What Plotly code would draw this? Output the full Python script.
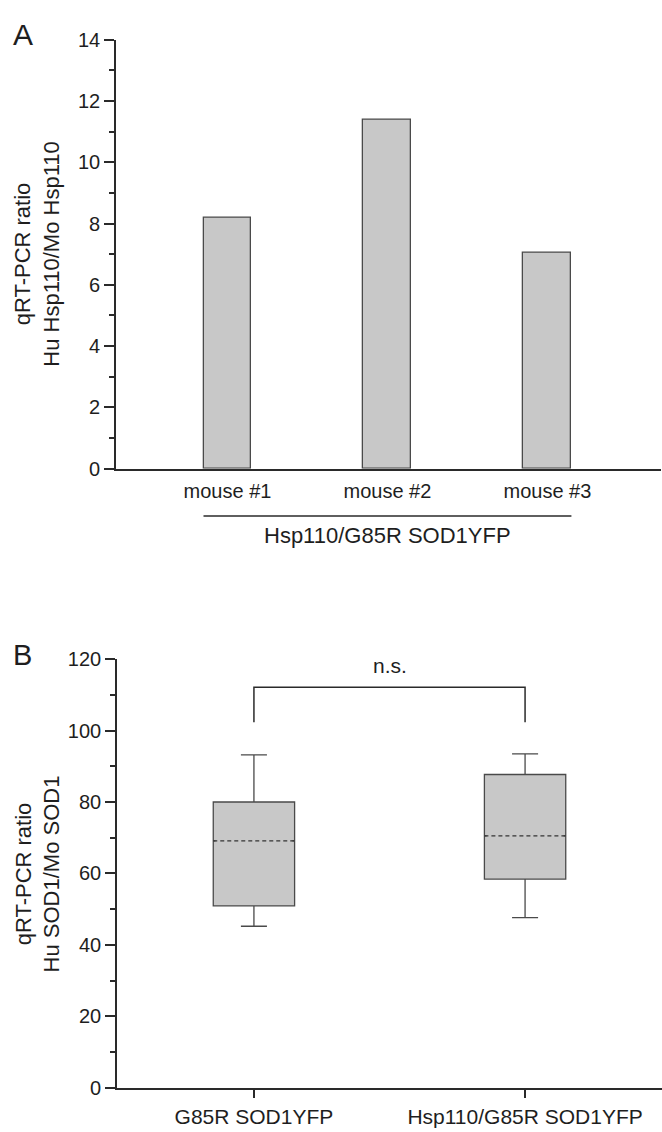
import plotly.graph_objects as go

# ---------------- Panel A data ----------------
mice = ["mouse #1", "mouse #2", "mouse #3"]
ratio_hsp110 = [8.18, 11.38, 7.06]
group_label_a = "Hsp110/G85R SOD1YFP"
yticks_a = [0, 2, 4, 6, 8, 10, 12, 14]

# ---------------- Panel B data ----------------
genotypes = ["G85R SOD1YFP", "Hsp110/G85R SOD1YFP"]
q1_vals = [50.9, 58.4]
median_vals = [69.1, 70.5]
q3_vals = [80.0, 87.7]
lower_vals = [45.2, 47.6]
upper_vals = [93.2, 93.5]
sig_label = "n.s."
bracket_top = 112.1
bracket_leg = 102.3
yticks_b = [0, 20, 40, 60, 80, 100, 120]

FONT = "Liberation Sans, Arial, sans-serif"
TXT = "#1e1e1e"
AX = "#2a2a2a"
FILL = "#c8c8c8"
EDGE = "#4a4a4a"

W, H = 662, 1132
BAR_W = 0.3

pos_a = list(range(1, len(mice) + 1))
pos_b = list(range(1, len(genotypes) + 1))

fig = go.Figure()

# Panel A bars
fig.add_trace(go.Bar(
    x=pos_a, y=ratio_hsp110, width=BAR_W,
    marker=dict(color=FILL, line=dict(color=EDGE, width=1.3)),
    xaxis="x", yaxis="y", showlegend=False, hoverinfo="skip"))

# Panel B boxes
fig.add_trace(go.Box(
    x=pos_b, q1=q1_vals, median=median_vals, q3=q3_vals,
    lowerfence=lower_vals, upperfence=upper_vals,
    width=BAR_W, whiskerwidth=0.32, boxpoints=False,
    fillcolor=FILL, line=dict(color=EDGE, width=1.3),
    xaxis="x2", yaxis="y2", showlegend=False, hoverinfo="skip"))

# cover the solid median, then draw a dashed median
for p, m in zip(pos_b, median_vals):
    fig.add_trace(go.Scatter(
        x=[p - BAR_W / 2 + 0.008, p + BAR_W / 2 - 0.008], y=[m, m], mode="lines",
        line=dict(color=FILL, width=3), xaxis="x2", yaxis="y2",
        showlegend=False, hoverinfo="skip"))
    fig.add_trace(go.Scatter(
        x=[p - BAR_W / 2, p + BAR_W / 2], y=[m, m], mode="lines",
        line=dict(color="#333333", width=1.2, dash="4px,3px"), xaxis="x2", yaxis="y2",
        showlegend=False, hoverinfo="skip"))

# significance bracket
fig.add_trace(go.Scatter(
    x=[pos_b[0], pos_b[0], pos_b[-1], pos_b[-1]],
    y=[bracket_leg, bracket_top, bracket_top, bracket_leg],
    mode="lines", line=dict(color=AX, width=1.5),
    xaxis="x2", yaxis="y2", showlegend=False, hoverinfo="skip"))


# pixel helpers (window pixel coordinates -> paper coordinates)
def px_y(py):
    return 1 - py / H


def px_x(px):
    return min(1.0, px / W)


axis_common = dict(showgrid=False, zeroline=False, showline=True,
                   linecolor=AX, linewidth=1.6)

fig.update_layout(
    width=W, height=H,
    margin=dict(l=0, r=0, t=0, b=0),
    paper_bgcolor="white", plot_bgcolor="white",
    font=dict(family=FONT, color=TXT),
    bargap=0,
    xaxis=dict(**axis_common, domain=[px_x(116), px_x(661)], range=[0.303, 3.71],
               tickvals=pos_a, ticktext=mice, ticks="", ticklabelstandoff=4,
               tickfont=dict(size=20, family=FONT, color=TXT), anchor="y"),
    yaxis=dict(**axis_common, domain=[px_y(466.7), px_y(29.3)], range=[0, 14],
               tickvals=yticks_a, ticks="outside", ticklen=10, tickwidth=1.5,
               tickcolor=AX, tickfont=dict(size=20, family=FONT, color=TXT),
               minor=dict(ticks="outside", ticklen=5, tickwidth=1.5, dtick=1,
                          tickcolor=AX),
               anchor="x"),
    xaxis2=dict(**axis_common, domain=[px_x(117), 1.0], range=[0.495, 2.505],
                tickvals=pos_b, ticktext=genotypes, ticks="outside", ticklen=9,
                tickwidth=1.5, tickcolor=AX,
                tickfont=dict(size=21, family=FONT, color=TXT), anchor="y2"),
    yaxis2=dict(**axis_common, domain=[px_y(1098), px_y(661)], range=[0, 120],
                tickvals=yticks_b, ticks="outside", ticklen=10, tickwidth=1.5,
                tickcolor=AX, tickfont=dict(size=20, family=FONT, color=TXT),
                minor=dict(ticks="outside", ticklen=5, tickwidth=1.5, dtick=10,
                           tickcolor=AX),
                anchor="x2"),
)

# group underline and label for panel A
fig.add_shape(type="line", xref="x", yref="paper",
              x0=pos_a[0] - BAR_W / 2, x1=pos_a[-1] + BAR_W / 2,
              y0=px_y(515), y1=px_y(515), line=dict(color=AX, width=1.5))

annotations = [
    dict(text=group_label_a, xref="x", yref="paper", x=pos_a[len(pos_a) // 2],
         y=px_y(535), xanchor="center", yanchor="middle", showarrow=False,
         font=dict(size=22, family=FONT, color=TXT)),
    dict(text="qRT-PCR ratio<br>Hu Hsp110/Mo Hsp110", xref="paper", yref="paper",
         x=px_x(37.5), y=px_y(248), textangle=-90, xanchor="center",
         yanchor="middle", showarrow=False,
         font=dict(size=22, family=FONT, color=TXT)),
    dict(text="qRT-PCR ratio<br>Hu SOD1/Mo SOD1", xref="paper", yref="paper",
         x=px_x(37.5), y=px_y(880), textangle=-90, xanchor="center",
         yanchor="middle", showarrow=False,
         font=dict(size=22, family=FONT, color=TXT)),
    dict(text=sig_label, xref="x2", yref="y2",
         x=(pos_b[0] + pos_b[-1]) / 2, y=bracket_top, yanchor="bottom",
         yshift=8, showarrow=False, font=dict(size=21, family=FONT, color=TXT)),
    dict(text="A", xref="paper", yref="paper", x=px_x(23), y=px_y(24),
         xanchor="center", yanchor="middle", showarrow=False,
         font=dict(size=30, family=FONT, color=TXT)),
    dict(text="B", xref="paper", yref="paper", x=px_x(22), y=px_y(657),
         xanchor="center", yanchor="middle", showarrow=False,
         font=dict(size=29, family=FONT, color=TXT)),
]
fig.update_layout(annotations=annotations)

# remove the default page margin so the figure fills the window exactly
fig.write_html(
    "out.html",
    config={"displayModeBar": False},
    post_script="document.body.style.margin='0';"
                "document.body.style.overflow='hidden';"
                "document.documentElement.style.overflow='hidden';",
)
